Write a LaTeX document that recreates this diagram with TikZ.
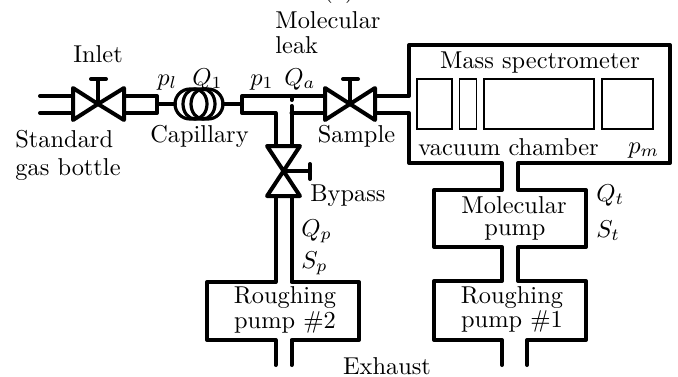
\documentclass[tikz,border=0pt,10pt]{standalone}
\newcommand{\tl}[1]{\scalebox{1.22}{#1}}
\tikzset{
  pipe/.style={line width=2pt,line join=round,line cap=round},
  coil/.style={line width=1.6pt},
  thinbox/.style={draw,line width=0.55pt,inner sep=0pt,minimum width=0pt},
  lab/.style={inner sep=0pt,anchor=base west},
  labc/.style={inner sep=0pt,align=center,anchor=base}
}
\begin{document}
\begin{tikzpicture}[x=0.5pt,y=-0.5pt]
\useasboundingbox (0,0) rectangle (678,376);
% named connection points
\coordinate (InC) at (98,104);
\coordinate (SaC) at (350,104);
\coordinate (ByC) at (283.5,171);
% gas bottle pipes
\draw[pipe] (40,96) -- (73,96) (40,113) -- (73,113);
% inlet valve
\draw[pipe] (InC) -- (73,88) -- (73,120) -- cycle;
\draw[pipe] (InC) -- (124,88) -- (124,120) -- cycle;
\draw[pipe] (InC) -- (98,79) (91,79) -- (106,79);
\draw[pipe] (124,96) -- (157,96) -- (157,113) -- (124,113);
\draw[pipe] (157,104) -- (175,104);
% capillary
\draw[coil,rounded corners=7.5pt] (175,89) rectangle (223,119);
\draw[coil] (195,104) ellipse[x radius=12,y radius=15] (203,104) ellipse[x radius=12,y radius=15];
\draw[pipe] (223,104) -- (242,104);
% tee
\draw[pipe] (291.5,98) -- (291.5,100) (291.5,106) -- (291.5,113) -- (291.5,146);
\draw[pipe] (325,96) -- (242,96) -- (242,113) -- (275.5,113) -- (275.5,146);
\draw[pipe] (291.5,113) -- (325,113);
% sample valve
\draw[pipe] (SaC) -- (325,88) -- (325,120) -- cycle;
\draw[pipe] (SaC) -- (375,88) -- (375,120) -- cycle;
\draw[pipe] (SaC) -- (350,79) (343,79) -- (358,79);
% bypass valve
\draw[pipe] (ByC) -- (267,146) -- (300,146) -- cycle;
\draw[pipe] (ByC) -- (267,196) -- (300,196) -- cycle;
\draw[pipe] (ByC) -- (310,171) (310,164) -- (310,179);
% mass spectrometer
\draw[pipe] (375,96) -- (409,96) -- (409,45) -- (670,45) -- (670,163) -- (518,163) -- (518,190) -- (586,190) -- (586,247) -- (518,247) -- (518,281) -- (586,281) -- (586,340) -- (527,340) -- (527,365);
\draw[pipe] (375,113) -- (409,113) -- (409,163) -- (502,163) -- (502,190) -- (434,190) -- (434,247) -- (502,247) -- (502,281) -- (434,281) -- (434,340) -- (502,340) -- (502,365);
% roughing pump 2
\draw[pipe] (275.5,196) -- (275.5,282) -- (207,282) -- (207,340) -- (275.5,340) -- (275.5,365);
\draw[pipe] (291.5,196) -- (291.5,282) -- (359,282) -- (359,340) -- (291.5,340) -- (291.5,365);
% inner boxes
\node[thinbox,minimum width=17.5pt,minimum height=25pt] (b1) at (434.5,104) {};
\node[thinbox,minimum width=8.5pt,minimum height=25pt] (b2) at (468,104) {};
\node[thinbox,minimum width=55pt,minimum height=25pt] (b3) at (539,104) {};
\node[thinbox,minimum width=25.5pt,minimum height=25pt] (b4) at (627.5,104) {};
% labels
\node[labc] (t0) at (339,-3) {\tl{(a)}};
\node[labc] (t1) at (98,62) {\tl{Inlet}};
\node[lab] (t2) at (15,147) {\tl{Standard}};
\node[lab] (t3) at (15,175) {\tl{gas bottle}};
\node[lab] (t4) at (157,85) {\tl{$p_l$}};
\node[lab] (t5) at (192,85) {\tl{$Q_1$}};
\node[labc] (t6) at (199.5,142) {\tl{Capillary}};
\node[lab] (t7) at (250,85) {\tl{$p_1$}};
\node[lab] (t8) at (284,85) {\tl{$Q_a$}};
\node[lab] (t9) at (275,28) {\tl{Molecular}};
\node[lab] (t10) at (275,53) {\tl{leak}};
\node[labc] (t11) at (356.5,142) {\tl{Sample}};
\node[labc] (t12) at (540,68) {\tl{Mass spectrometer}};
\node[lab] (t13) at (418,155) {\tl{vacuum chamber}};
\node[lab] (t14) at (628,153) {\tl{$p_m$}};
\node[lab] (t15) at (310,201) {\tl{Bypass}};
\node[lab] (t16) at (301,236) {\tl{$Q_p$}};
\node[lab] (t17) at (301,268) {\tl{$S_p$}};
\node[lab] (t18) at (596,201) {\tl{$Q_t$}};
\node[lab] (t19) at (596,237) {\tl{$S_t$}};
\node[labc] (t20) at (285,303) {\tl{Roughing}};
\node[labc] (t21) at (285,328) {\tl{pump \#2}};
\node[labc] (t22) at (514,213) {\tl{Molecular}};
\node[labc] (t23) at (515,235) {\tl{pump}};
\node[labc] (t24) at (512,303) {\tl{Roughing}};
\node[labc] (t25) at (512,327) {\tl{pump \#1}};
\node[labc] (t26) at (387,374) {\tl{Exhaust}};
\end{tikzpicture}
\end{document}
